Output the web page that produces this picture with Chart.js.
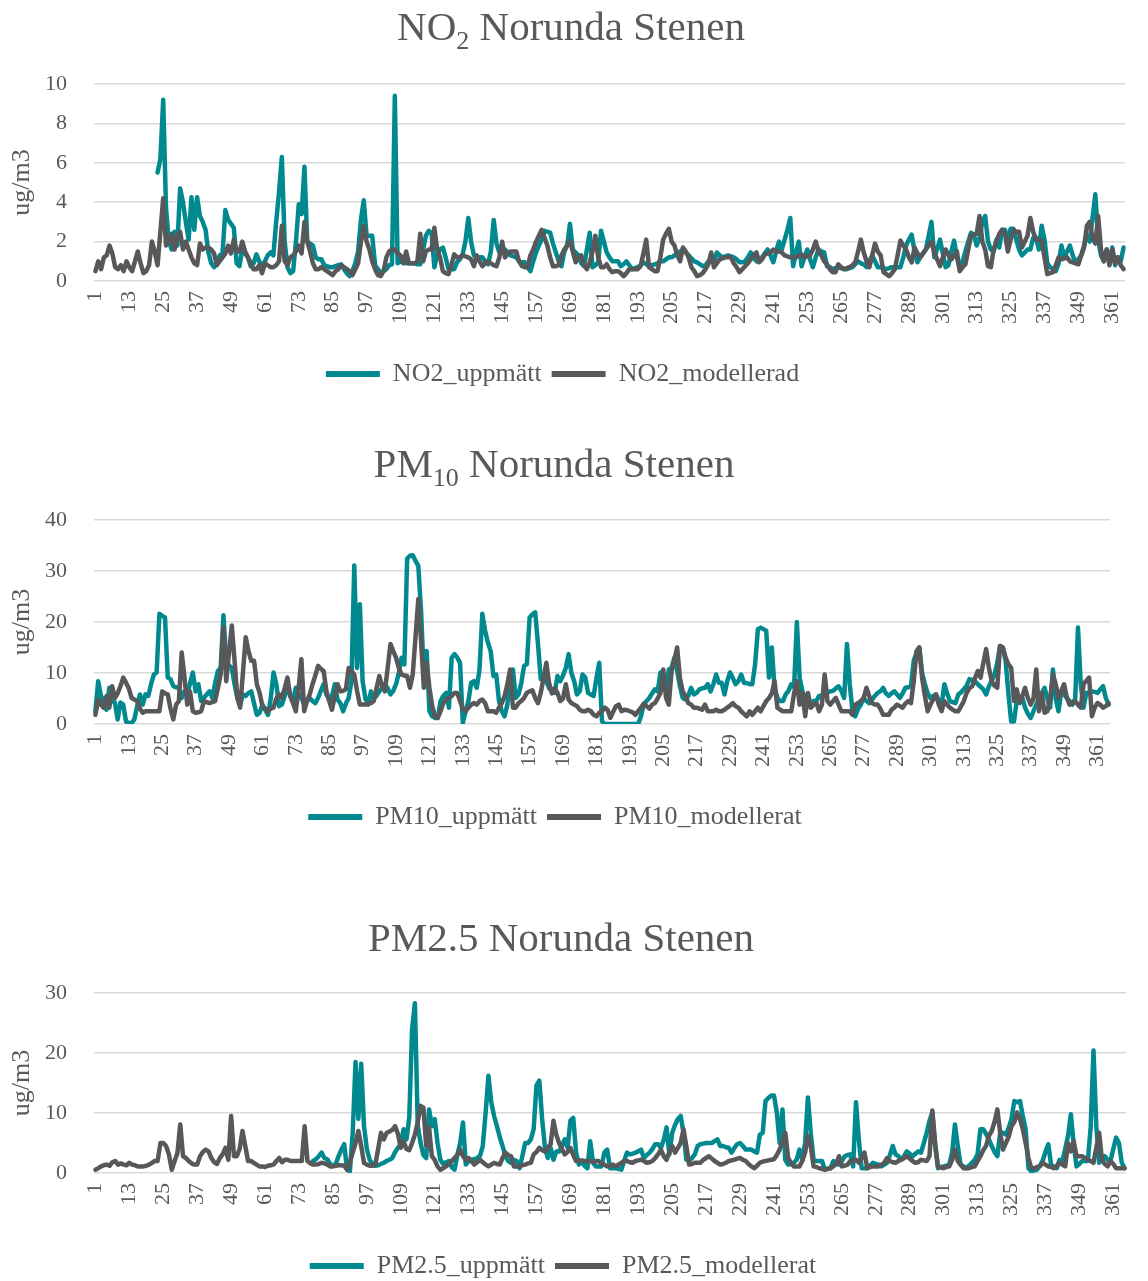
<!DOCTYPE html>
<html>
<head>
<meta charset="utf-8">
<title>Norunda Stenen</title>
<script src="https://cdn.jsdelivr.net/npm/chart.js@4.4.1/dist/chart.umd.min.js"></script>
<style>
    html, body { margin: 0; padding: 0; background: #ffffff; overflow: hidden; }
    #wrap { position: relative; width: 1148px; height: 1281px; }
    canvas { position: absolute; left: 0; }
</style>
</head>
<body>
<div id="wrap">
    <canvas id="no2-chart" width="1148" height="420" style="top:0px"></canvas>
    <canvas id="pm10-chart" width="1148" height="440" style="top:420px"></canvas>
    <canvas id="pm25-chart" width="1148" height="434" style="top:860px"></canvas>
</div>
<script>
// day numbers on the x axis (1..365), every 12th one is printed
var days = [];
for (var d = 1; d <= 365; d++) { days.push(String(d)); }

var no2_uppmatt = [
    null,null,null,null,null,null,null,null,null,null,null,null,
    null,null,null,null,null,null,null,null,null,null,5.5,6.2,
    9.2,3.7,2.0,1.6,2.5,1.8,4.7,4.0,3.0,2.1,4.25,2.6,
    4.25,3.3,3.0,2.6,1.45,0.9,0.7,1.0,1.3,1.4,3.6,3.1,
    2.9,2.7,0.9,0.75,1.6,1.4,1.2,0.75,0.9,1.35,1.0,0.75,
    1.0,1.3,1.45,1.3,3.0,4.5,6.3,2.0,0.7,0.4,0.5,2.0,
    3.9,3.4,5.8,2.0,1.9,1.8,1.2,1.1,1.1,0.8,0.75,0.7,
    0.7,0.75,0.8,0.85,0.6,0.4,0.25,0.5,0.9,1.5,3.1,4.1,
    2.3,2.3,2.3,0.8,0.6,0.4,0.5,0.6,0.8,0.85,9.4,0.9,
    1.0,0.95,0.9,0.9,0.9,0.9,0.85,0.85,1.6,2.3,2.55,2.45,
    0.7,1.35,1.6,1.7,1.2,0.6,0.6,0.6,0.95,1.1,1.35,2.0,
    3.2,2.0,1.3,1.2,1.2,1.2,1.0,0.85,1.5,3.1,1.9,1.45,
    1.45,1.6,1.45,1.3,1.25,1.2,1.0,0.95,0.95,0.7,0.5,1.0,
    1.45,1.8,2.1,2.55,2.5,2.45,1.9,1.45,1.0,0.75,1.5,1.8,
    2.9,1.6,1.45,1.3,0.9,0.75,1.6,2.45,0.7,0.8,0.95,2.55,
    2.0,1.45,1.2,1.0,1.0,1.0,0.75,0.85,1.0,0.8,0.6,0.65,
    0.7,0.8,0.95,0.85,0.75,0.8,0.85,0.9,1.0,1.0,1.1,1.2,
    1.2,1.3,1.35,1.5,1.6,1.45,1.3,1.15,1.0,0.95,0.85,0.75,
    0.8,1.0,1.0,0.95,1.45,1.3,1.2,1.25,1.3,1.25,1.2,1.1,
    0.95,0.95,1.0,1.2,1.45,1.2,1.0,1.1,1.2,1.4,1.6,1.3,
    0.95,1.5,2.0,1.6,2.1,2.6,3.2,0.75,1.4,2.0,0.75,1.2,
    1.6,1.1,0.7,1.2,1.6,1.5,1.45,0.75,0.7,0.6,0.65,0.7,
    0.65,0.6,0.6,0.65,0.7,0.85,1.0,0.9,0.85,0.7,1.0,1.3,
    1.0,0.7,0.7,0.65,0.6,0.65,0.7,0.7,0.7,0.7,1.2,1.8,
    2.1,2.35,1.5,0.95,1.2,1.4,1.6,2.3,3.0,1.2,1.6,2.1,
    1.4,0.7,0.8,1.5,2.05,1.2,0.6,1.0,1.5,2.0,2.45,2.35,
    1.8,2.2,3.0,3.3,2.0,1.6,1.5,2.1,1.7,2.6,2.6,2.0,
    2.65,2.65,2.1,1.6,1.3,1.45,1.6,1.6,2.2,2.2,1.6,2.8,
    2.1,0.9,0.7,0.6,0.5,0.9,1.8,1.2,1.5,1.8,1.3,0.95,
    1.1,1.3,1.8,2.3,2.0,3.2,4.4,2.1,1.3,1.0,1.6,0.9,
    1.7,0.8,1.2,1.0,1.7
];

var no2_modellerad = [
    0.5,1.0,0.6,1.2,1.3,1.8,1.4,0.7,0.6,0.8,0.5,1.0,
    0.7,0.5,1.0,1.5,0.9,0.4,0.5,0.8,2.0,1.5,0.8,2.5,
    4.2,1.8,2.0,2.4,1.6,2.3,2.5,1.6,2.0,1.6,1.2,0.9,
    0.8,1.9,1.6,1.7,1.7,1.6,1.4,0.8,1.0,1.2,1.4,1.8,
    1.4,2.1,1.5,1.5,2.0,1.5,1.2,0.9,0.6,0.6,0.8,0.4,
    0.9,0.8,0.7,0.7,0.8,1.0,2.8,1.0,0.8,1.2,1.3,1.5,
    1.8,1.4,3.0,2.0,1.5,0.9,0.6,0.6,0.7,0.6,0.5,0.4,
    0.3,0.5,0.6,0.8,0.7,0.6,0.5,0.3,0.6,0.9,2.0,2.8,
    2.0,1.6,1.0,0.6,0.3,0.25,0.5,1.2,1.5,1.6,1.6,1.4,
    1.3,0.9,1.5,0.9,0.9,0.9,1.0,2.4,1.0,1.5,1.6,1.6,
    2.7,1.6,1.2,0.5,0.4,0.35,0.8,1.35,1.2,1.2,1.3,1.25,
    1.2,1.1,0.75,1.3,1.0,0.75,0.9,1.0,0.9,0.8,0.75,1.2,
    2.0,1.2,1.4,1.5,1.5,1.5,1.0,0.75,0.7,0.7,1.3,1.6,
    2.0,2.3,2.6,2.2,1.8,1.2,0.75,0.75,0.8,1.3,1.6,1.8,
    2.05,1.5,0.95,1.2,1.3,0.8,0.6,0.95,1.5,2.3,1.2,0.7,
    0.7,0.85,0.6,0.45,0.5,0.5,0.4,0.25,0.4,0.6,0.6,0.6,
    0.6,0.75,1.4,2.1,0.7,0.6,0.5,0.5,1.2,2.1,2.4,2.65,
    2.0,1.8,1.3,1.0,1.7,1.5,1.2,0.7,0.5,0.25,0.3,0.4,
    0.6,0.85,1.45,0.7,0.9,1.1,1.15,1.2,1.2,1.2,0.9,0.7,
    0.45,0.6,0.75,0.9,1.1,1.3,1.45,0.95,1.1,1.35,1.4,1.45,
    1.6,1.5,1.5,1.45,1.3,1.25,1.2,1.2,1.2,1.3,1.35,1.2,
    1.25,1.3,1.6,2.0,1.5,1.3,1.0,0.85,0.6,0.45,0.45,0.85,
    0.7,0.6,0.65,0.7,0.8,0.95,1.5,2.1,1.45,1.0,0.7,1.3,
    1.9,1.5,1.3,0.45,0.35,0.25,0.4,0.6,1.3,2.05,1.8,1.6,
    1.2,0.95,1.7,1.4,1.2,1.4,1.6,1.8,2.0,1.45,1.1,0.75,
    1.2,1.6,1.3,1.1,1.3,1.5,0.5,0.7,0.85,1.6,2.3,2.35,
    2.4,3.3,2.0,1.6,0.75,0.7,1.6,2.0,2.4,2.6,2.4,1.5,
    2.1,2.6,2.5,2.5,1.7,2.0,2.3,3.2,2.5,2.1,2.1,2.05,
    1.2,0.35,0.4,0.45,0.8,1.2,1.1,1.15,1.2,1.0,0.95,0.9,
    0.85,1.3,1.7,2.8,3.0,2.2,1.9,3.3,1.6,1.0,1.6,0.8,
    1.6,0.9,1.2,0.8,0.6
];

var pm10_uppmatt = [
    2.5,8.4,5.5,4.5,2.8,7.1,4.5,4.2,0.9,4.2,3.8,0.5,
    0.2,0.2,0.9,3.5,5.8,3.8,5.8,5.5,7.8,9.7,10.1,21.6,
    21.2,20.9,9.1,8.8,7.4,7.2,7.1,5.1,6.4,5.8,8.0,10.1,
    6.4,7.8,4.5,5.1,5.8,6.4,5.1,8.0,10.4,11.0,21.3,12.4,
    11.5,11.0,7.8,5.1,3.8,5.8,5.5,6.1,6.4,4.0,1.8,2.2,
    3.8,2.8,1.8,5.0,10.1,7.8,3.5,3.8,5.5,7.4,5.5,4.5,
    7.1,6.0,5.1,3.8,4.5,5.1,4.5,4.1,5.1,6.5,7.8,5.8,
    4.8,5.5,7.8,4.8,4.1,2.5,4.0,5.1,8.4,31.1,11.0,23.5,
    8.4,5.0,3.8,6.4,5.1,5.5,6.4,7.1,7.8,7.0,5.8,6.5,
    7.8,10.0,13.0,11.7,32.4,33.0,33.1,32.0,31.0,22.2,9.1,14.3,
    2.5,1.5,1.2,1.2,4.5,5.5,6.1,3.2,13.0,13.7,13.0,12.0,
    0.2,2.5,4.5,8.1,8.4,7.1,10.7,21.6,18.3,16.0,14.3,9.4,
    9.7,4.5,2.5,1.5,3.8,8.8,10.7,5.1,5.8,8.0,11.4,11.7,
    20.9,21.5,21.9,15.7,8.8,9.1,8.4,7.0,6.4,6.1,9.4,8.4,
    9.5,11.0,13.7,10.0,8.4,5.8,6.4,9.7,9.1,6.1,5.8,5.5,
    9.0,12.0,0.5,0,0,0,0,0,0,0,0,0,
    0,0,0,0,1.5,3.8,4.5,5.1,6.0,6.8,6.4,10.1,
    7.0,6.4,10.7,11.0,13.0,10.4,7.4,5.1,4.8,5.5,7.1,5.8,
    6.1,6.8,7.0,7.1,7.8,6.4,7.8,9.7,8.1,8.1,5.8,8.4,
    10.1,9.0,7.8,8.4,9.7,8.1,8.0,7.8,7.8,11.7,18.6,18.9,
    18.6,18.3,9.1,15.0,7.0,5.1,4.5,4.5,5.8,6.5,7.8,7.2,
    20.0,9.1,6.4,5.1,4.5,3.5,4.5,4.5,5.5,5.5,6.0,6.2,
    6.4,6.5,7.0,7.4,6.5,5.1,15.7,7.8,2.5,1.5,3.0,3.8,
    5.1,4.5,4.1,4.8,5.5,6.1,6.4,7.1,6.0,5.5,6.0,6.4,
    5.8,5.1,6.0,7.1,7.2,7.4,12.4,14.0,15.0,10.0,7.8,6.0,
    5.1,5.5,5.8,4.5,3.8,7.8,6.0,4.5,4.3,4.1,5.8,6.2,
    6.8,7.5,8.8,8.6,8.4,7.8,7.3,6.8,5.8,7.4,8.5,9.7,
    12.0,15.3,15.0,12.4,6.0,0.5,0.5,4.5,4.8,5.1,3.2,2.0,
    1.2,2.5,3.8,5.1,6.0,7.1,5.0,3.2,10.7,5.0,2.5,6.4,
    5.8,5.1,4.5,3.8,5.0,18.9,7.8,3.2,6.1,6.2,6.4,6.3,
    6.1,6.8,7.4,5.1,3.8
];

var pm10_modellerat = [
    1.8,4.8,3.8,3.2,5.5,3.2,7.4,5.1,6.0,7.4,9.1,8.1,
    7.0,5.1,4.8,4.5,3.0,2.2,2.5,2.5,2.5,2.5,2.5,2.5,
    6.4,6.0,5.8,3.0,0.9,3.8,4.5,14.0,9.1,3.8,6.4,2.5,
    2.2,2.3,2.5,4.5,4.3,4.1,4.3,4.5,7.0,9.7,18.9,8.4,
    14.0,19.3,12.4,5.1,3.2,10.0,17.0,14.3,12.4,12.4,7.8,6.1,
    3.5,3.0,2.5,3.0,3.2,5.0,5.8,5.1,7.0,9.1,5.5,4.1,
    2.5,7.0,12.7,2.5,4.5,5.8,7.8,9.5,11.4,10.8,10.4,6.4,
    4.5,2.8,5.5,7.8,6.4,6.5,6.8,11.0,10.4,9.7,6.5,3.8,
    3.8,3.8,4.0,4.1,4.5,7.0,9.4,7.4,6.4,11.0,15.7,14.3,
    13.0,11.0,9.7,9.5,9.4,7.1,9.7,17.0,24.5,16.3,7.1,12.0,
    7.1,3.5,1.5,1.2,2.5,4.1,4.8,5.1,5.5,6.1,6.1,4.5,
    3.0,2.5,3.2,3.8,4.1,3.8,4.5,4.8,4.1,2.5,2.5,2.5,
    2.2,3.2,4.1,5.5,7.8,10.7,3.2,3.2,4.1,4.5,5.1,6.1,
    6.4,6.6,5.1,4.1,6.1,9.0,12.0,8.0,6.0,7.0,6.1,4.5,
    5.0,7.8,4.8,4.1,3.8,3.5,2.8,2.5,2.5,2.8,2.5,1.8,
    1.5,2.2,2.5,3.2,2.8,1.2,2.4,3.5,3.8,2.5,2.8,2.7,
    2.5,2.3,1.8,2.5,3.2,4.0,3.5,3.0,3.8,4.1,5.0,6.1,
    10.7,5.1,3.8,10.4,12.5,15.0,9.0,6.4,5.5,4.1,3.8,3.2,
    3.2,3.0,2.8,3.8,2.5,2.5,2.5,2.8,2.5,2.5,2.8,3.2,
    3.6,4.1,3.5,3.2,2.5,2.0,1.5,2.5,1.8,2.5,3.2,2.5,
    3.5,4.5,5.1,6.0,8.4,3.2,2.8,2.5,2.5,2.5,2.5,6.0,
    8.4,3.8,6.1,1.5,6.1,3.2,3.8,4.1,2.5,3.8,9.7,4.5,
    3.8,4.5,5.1,3.8,2.5,2.5,2.5,2.5,1.8,3.8,4.1,4.5,
    5.1,7.1,5.5,4.1,3.8,3.8,3.0,1.8,1.8,1.8,2.8,3.2,
    3.8,3.5,3.2,4.0,4.5,4.1,8.4,14.3,15.0,9.0,5.5,2.5,
    3.8,4.8,5.8,3.8,2.5,4.5,3.8,3.2,2.8,2.5,2.5,3.5,
    4.5,6.1,7.0,7.4,9.0,10.4,9.1,12.0,14.7,11.0,8.4,7.5,
    7.1,15.3,15.0,13.0,11.7,11.0,4.5,6.8,4.1,5.5,7.1,5.1,
    3.8,5.0,10.7,2.5,6.1,2.2,2.5,5.0,9.7,7.8,5.1,6.5,
    7.8,5.1,3.8,4.1,4.5,3.8,3.2,7.8,8.5,9.1,1.5,3.2,
    4.1,3.8,3.2,3.5,4.1
];

var pm25_uppmatt = [
    null,null,null,null,null,null,null,null,null,null,null,null,
    null,null,null,null,null,null,null,null,null,null,null,null,
    null,null,null,null,null,null,null,null,null,null,null,null,
    null,null,null,null,null,null,null,null,null,null,null,null,
    null,null,null,null,null,null,null,null,null,null,null,null,
    null,null,null,null,null,null,null,null,null,null,null,null,
    null,null,null,null,null,2.0,2.3,2.8,3.4,2.5,2.3,1.5,
    1.3,1.5,2.8,3.9,4.8,0.55,0.3,6.7,18.5,9.0,18.2,7.8,
    4.0,2.2,1.5,1.2,1.3,1.5,1.7,2.0,2.2,2.5,3.5,4.2,
    4.8,7.3,5.6,9.2,24.0,28.3,8.0,5.0,3.0,2.5,10.6,7.8,
    9.0,5.0,2.2,1.5,1.8,2.0,1.0,0.55,3.0,5.0,8.4,1.4,
    2.0,2.2,2.3,2.5,2.8,4.5,10.0,16.2,11.8,9.5,7.8,6.0,
    4.5,2.8,2.0,1.7,2.2,2.0,0.8,2.8,5.0,5.0,5.6,7.3,
    14.6,15.4,9.0,4.2,2.5,4.2,2.2,3.6,3.6,4.5,5.6,4.2,
    8.7,9.2,3.4,1.4,2.0,1.2,0.8,5.3,1.7,1.1,1.1,1.1,
    3.4,3.9,0.8,0.8,0.8,0.7,0.55,2.0,3.4,3.1,3.2,3.4,
    3.6,3.9,2.5,3.0,3.4,4.0,4.8,4.8,4.2,5.5,7.6,3.1,
    6.7,8.0,9.0,9.5,6.7,2.2,2.0,2.5,3.1,4.5,4.8,4.9,
    5.0,5.0,5.0,5.3,5.6,4.5,4.5,4.3,4.2,3.4,4.2,4.8,
    5.0,4.5,3.9,3.9,3.9,3.6,3.4,6.4,6.7,12.0,12.5,12.9,
    12.9,10.1,5.0,10.6,2.2,1.4,1.5,1.7,2.2,3.9,2.2,5.0,
    12.6,6.7,2.2,2.0,2.0,2.0,0.55,0.7,0.8,2.0,1.7,1.4,
    2.0,2.8,3.0,3.1,1.1,11.8,5.6,0.8,0.8,0.8,1.2,1.7,
    1.5,1.4,1.1,1.4,1.7,3.0,4.5,3.1,2.8,2.2,2.8,3.6,
    3.2,2.8,3.2,3.6,3.4,5.0,6.7,8.7,10.1,5.0,0.8,1.0,
    1.1,1.2,1.4,3.4,8.1,4.5,1.4,1.1,0.8,1.2,1.7,2.2,
    3.1,7.3,7.3,6.5,5.6,4.5,3.5,2.8,6.7,6.7,6.4,7.5,
    9.0,12.0,11.8,12.0,9.5,7.3,0.8,0.3,0.4,0.55,1.2,2.0,
    3.5,4.8,1.4,1.0,0.8,2.2,2.0,4.0,6.2,9.8,4.8,1.1,
    1.5,2.0,2.0,2.0,7.6,20.4,7.8,1.7,2.2,2.8,2.2,2.0,
    4.0,5.9,5.0,1.7,0.8
];

var pm25_modellerat = [
    0.55,0.8,1.1,1.3,1.4,1.2,1.8,2.0,1.4,1.6,1.4,1.3,
    1.7,1.4,1.3,1.1,1.1,1.1,1.2,1.4,1.7,2.0,2.0,5.0,
    5.0,4.5,3.1,0.55,2.0,3.3,8.1,2.8,2.5,2.0,1.6,1.4,
    1.4,2.8,3.5,3.9,3.6,2.5,1.8,1.5,2.5,3.1,4.2,2.2,
    9.5,2.8,2.8,4.0,7.0,4.5,2.0,2.0,1.7,1.4,1.1,1.1,
    1.0,1.2,1.3,1.4,2.0,2.5,1.8,2.2,2.2,2.0,2.0,2.0,
    2.0,2.0,7.8,2.0,1.6,1.4,1.4,1.5,1.7,1.6,1.4,1.1,
    1.1,1.2,1.3,1.3,1.2,0.55,1.8,3.4,5.0,7.0,4.5,1.7,
    1.4,1.2,1.2,1.4,4.0,6.7,5.6,6.7,6.9,7.2,7.8,6.5,
    4.2,5.3,4.0,3.8,5.0,6.4,8.5,11.2,10.9,4.5,7.6,2.8,
    2.2,1.1,0.55,0.8,1.1,1.5,2.0,2.5,3.0,3.9,2.8,2.2,
    2.5,2.0,1.4,1.8,2.2,1.8,1.4,1.1,1.4,1.7,1.5,1.4,
    2.5,3.4,3.0,2.8,1.1,1.1,1.1,1.3,1.4,1.6,1.7,3.1,
    3.5,4.2,3.8,3.6,4.2,4.8,8.7,6.4,5.0,4.0,3.1,3.5,
    4.2,3.0,2.0,2.0,2.1,2.0,2.0,2.0,1.8,2.0,2.0,1.5,
    1.4,1.1,1.2,1.4,1.1,1.4,1.7,2.0,2.0,1.8,1.7,2.0,
    2.1,2.2,2.0,1.7,1.8,2.0,2.5,3.1,3.9,2.8,2.2,3.5,
    4.5,3.4,4.2,5.0,7.3,4.5,1.4,1.5,1.7,1.7,1.7,2.2,
    2.5,2.8,2.4,2.0,1.7,1.4,1.5,1.7,2.0,2.1,2.2,2.4,
    2.5,2.2,2.0,1.5,1.1,0.8,1.2,1.7,1.9,2.0,2.1,2.2,
    2.3,3.0,3.9,5.3,6.7,2.5,1.7,1.1,1.1,1.1,2.0,3.4,
    6.2,4.5,1.1,1.0,0.8,0.7,0.55,0.7,0.8,1.1,1.5,2.8,
    1.1,1.2,1.4,2.0,2.0,2.2,1.7,2.5,3.4,0.8,1.0,1.1,
    1.1,1.1,1.4,1.7,2.5,2.0,1.8,1.7,2.0,2.2,2.5,2.8,
    2.4,2.0,1.7,1.8,2.2,2.1,2.0,2.8,10.4,4.5,1.1,0.9,
    0.8,1.0,1.1,2.2,3.9,2.0,1.4,0.8,0.8,0.8,1.0,1.1,
    2.0,2.8,3.8,4.5,6.2,7.0,8.5,10.6,6.7,3.9,5.0,6.0,
    7.8,8.5,10.1,9.0,7.3,5.0,2.5,0.8,0.8,1.0,1.1,1.7,
    1.4,1.1,1.0,0.8,1.2,1.7,1.4,1.1,5.0,3.6,5.3,2.8,
    2.8,2.8,2.5,2.2,2.0,1.7,4.2,6.7,2.2,1.5,1.1,2.0,
    1.5,0.8,0.8,0.8,0.8
];

var TEAL = '#00898f';
var GRAY = '#58585a';
var TEXT = '#595959';
var GRID = '#d9d9d9';
var FONT = '"Liberation Serif", "Times New Roman", serif';

// chart titles with a lowered subscript part, drawn on the canvas
var subTitlePlugin = {
    id: 'subTitle',
    afterDraw: function (chart, args, opts) {
        var ctx = chart.ctx;
        var big = '41px ' + FONT;
        var small = '26px ' + FONT;
        ctx.save();
        ctx.fillStyle = TEXT;
        ctx.textBaseline = 'alphabetic';
        ctx.textAlign = 'left';
        ctx.font = big;
        var w1 = ctx.measureText(opts.main).width;
        var w3 = ctx.measureText(opts.rest).width;
        ctx.font = small;
        var w2 = opts.sub ? ctx.measureText(opts.sub).width : 0;
        var x = opts.x - (w1 + w2 + w3) / 2;
        ctx.font = big;
        ctx.fillText(opts.main, x, opts.y);
        if (opts.sub) {
            ctx.font = small;
            ctx.fillText(opts.sub, x + w1, opts.y + 9);
        }
        ctx.font = big;
        ctx.fillText(opts.rest, x + w1 + w2, opts.y);
        ctx.restore();
    }
};

function BuildChart(id, settings) {
    var ctx = document.getElementById(id);
    return new Chart(ctx, {
        type: 'line',
        data: {
            labels: days,
            datasets: [{
                label: settings.modLabel,
                data: settings.modelled,
                borderColor: GRAY,
                backgroundColor: GRAY,
                borderWidth: 4.5,
                pointRadius: 0,
                tension: 0,
                borderJoinStyle: 'round',
                borderCapStyle: 'round'
            }, {
                label: settings.measLabel,
                data: settings.measured,
                borderColor: TEAL,
                backgroundColor: TEAL,
                borderWidth: 4.5,
                pointRadius: 0,
                tension: 0,
                borderJoinStyle: 'round',
                borderCapStyle: 'round'
            }]
        },
        plugins: [subTitlePlugin],
        options: {
            responsive: false,
            animation: false,
            devicePixelRatio: 1,
            events: [],
            layout: {
                padding: { top: settings.padTop, right: settings.padRight, bottom: settings.padBottom, left: 0 }
            },
            plugins: {
                tooltip: { enabled: false },
                title: { display: false },
                subTitle: settings.title,
                legend: {
                    position: 'bottom',
                    reverse: true,
                    labels: {
                        color: TEXT,
                        font: { family: FONT, size: 26 },
                        boxWidth: 54,
                        boxHeight: 6,
                        padding: settings.legendPad,
                        useBorderRadius: true,
                        borderRadius: 3,
                        generateLabels: function (chart) {
                            return chart.data.datasets.map(function (ds, i) {
                                return {
                                    text: ds.label,
                                    fillStyle: ds.borderColor,
                                    strokeStyle: ds.borderColor,
                                    lineWidth: 0,
                                    fontColor: TEXT,
                                    hidden: false,
                                    datasetIndex: i
                                };
                            });
                        }
                    }
                }
            },
            scales: {
                x: {
                    offset: true,
                    grid: { display: false, drawTicks: false },
                    border: { display: false },
                    ticks: {
                        autoSkip: false,
                        minRotation: 90,
                        maxRotation: 90,
                        padding: 10,
                        color: TEXT,
                        font: { family: FONT, size: 22 },
                        callback: function (value, index) {
                            return index % 12 === 0 ? this.getLabelForValue(value) : '';
                        }
                    },
                    afterFit: function (scale) {
                        scale.height = settings.xHeight;
                        // rotated labels should not shrink the plot on the sides
                        scale.paddingLeft = 0;
                        scale.paddingRight = 0;
                    }
                },
                y: {
                    min: 0,
                    max: settings.yMax,
                    grid: { color: GRID, lineWidth: 1.5, drawTicks: false },
                    border: { display: false },
                    ticks: {
                        stepSize: settings.yStep,
                        padding: 27,
                        color: TEXT,
                        font: { family: FONT, size: 22 }
                    },
                    title: {
                        display: true,
                        text: 'ug/m3',
                        color: TEXT,
                        font: { family: FONT, size: 26 },
                        padding: { top: 7, bottom: 0 }
                    },
                    afterFit: function (scale) {
                        scale.width = 94;
                    }
                }
            }
        }
    });
}

var NO2Chart = BuildChart('no2-chart', {
    modelled: no2_modellerad,
    measured: no2_uppmatt,
    modLabel: 'NO2_modellerad',
    measLabel: 'NO2_uppmätt',
    yMax: 10, yStep: 2,
    padTop: 84, padRight: 23, padBottom: 23, xHeight: 70, legendPad: 10,
    title: { main: 'NO', sub: '2', rest: ' Norunda Stenen', x: 571, y: 40 }
});

var PM10Chart = BuildChart('pm10-chart', {
    modelled: pm10_modellerat,
    measured: pm10_uppmatt,
    modLabel: 'PM10_modellerat',
    measLabel: 'PM10_uppmätt',
    yMax: 40, yStep: 10,
    padTop: 100, padRight: 38, padBottom: 20, xHeight: 70, legendPad: 10,
    title: { main: 'PM', sub: '10', rest: ' Norunda Stenen', x: 554, y: 57 }
});

var PM25Chart = BuildChart('pm25-chart', {
    modelled: pm25_modellerat,
    measured: pm25_uppmatt,
    modLabel: 'PM2.5_modellerat',
    measLabel: 'PM2.5_uppmätt',
    yMax: 30, yStep: 10,
    padTop: 133, padRight: 22, padBottom: 5, xHeight: 70, legendPad: 10,
    title: { main: 'PM2.5 Norunda Stenen', sub: '', rest: '', x: 561, y: 91 }
});
</script>
</body>
</html>
